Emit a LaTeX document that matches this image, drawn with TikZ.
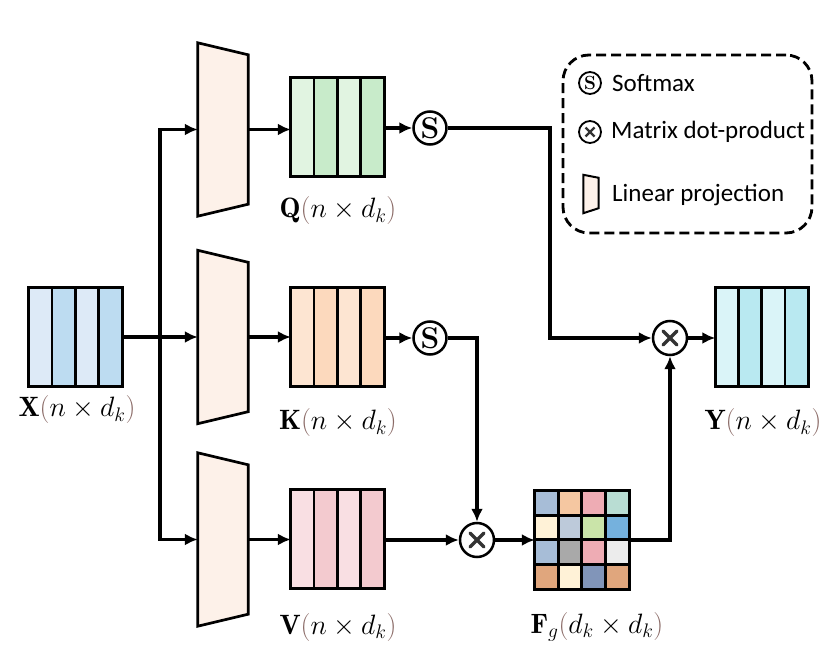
\RequirePackage{fix-cm}
\documentclass[tikz,border=0pt]{standalone}
\usepackage{fontspec}
\setsansfont{Carlito}
\usetikzlibrary{arrows.meta,calc}
\definecolor{xa}{HTML}{DDEAF7}\definecolor{xb}{HTML}{BDDCF1}
\definecolor{qa}{HTML}{E1F4E1}\definecolor{qb}{HTML}{C8EBCA}
\definecolor{ka}{HTML}{FDE5D2}\definecolor{kb}{HTML}{FCD9BD}
\definecolor{va}{HTML}{F9DFE3}\definecolor{vb}{HTML}{F3CACF}
\definecolor{ya}{HTML}{DAF4F8}\definecolor{yb}{HTML}{B9E9F1}
\definecolor{trapc}{HTML}{FDF1E9}
\definecolor{parc}{HTML}{8A6A66}
\definecolor{crossc}{HTML}{333333}
\definecolor{g1}{HTML}{A7BDD7}\definecolor{g2}{HTML}{F5C7A1}\definecolor{g3}{HTML}{EEACB4}\definecolor{g4}{HTML}{B9DDD3}
\definecolor{g5}{HTML}{FFF2D7}\definecolor{g6}{HTML}{BDCADA}\definecolor{g7}{HTML}{CAE4A9}\definecolor{g8}{HTML}{75B1DD}
\definecolor{g9}{HTML}{A7BDD7}\definecolor{g10}{HTML}{A9A9A9}\definecolor{g11}{HTML}{EEACB4}\definecolor{g12}{HTML}{ECECEC}
\definecolor{g13}{HTML}{E0A67D}\definecolor{g14}{HTML}{FFF2D7}\definecolor{g15}{HTML}{8195B9}\definecolor{g16}{HTML}{E0A67D}
\newcommand\pc[1]{{\color{parc}#1}}
\newcommand\matblk[5]{%
  \node[matbox] (#1) at (#2,#3) {};
  \foreach \i/\c in {0/#4,1/#5,2/#4,3/#5}{
    \fill[\c] ($(#1.north west)+(\i*23.25pt,0pt)$) rectangle ++(23.25pt,-98pt);
  }
  \foreach \i in {1,2,3}{
    \draw[line width=2.7pt] ($(#1.north west)+(\i*23.25pt,0pt)$) -- ++(0pt,-98pt);
  }
  \draw[line width=2.7pt] (#1.north west) rectangle (#1.south east);
}
\newcommand\trapblk[4]{% name x y height
  \node[minimum width=50pt,minimum height=#4pt,inner sep=0pt] (#1) at (#2,#3) {};
  \draw[trap] (#1.north west) -- ($(#1.north east)+(0pt,-12pt)$) -- ($(#1.south east)+(0pt,12pt)$) -- (#1.south west) -- cycle;
}
\tikzset{
  connline/.style={line width=3.3pt,line join=miter},
  arrline/.style={line width=3.3pt,line join=miter,-{Latex[length=13pt,width=12pt]}},
}
\begin{document}
\begin{tikzpicture}[x=1pt,y=-1pt,
  matbox/.style={minimum width=93pt,minimum height=98pt,inner sep=0pt},
  trap/.style={draw,fill=trapc,line width=2.7pt,line join=miter},
  lab/.style={font=\fontsize{28}{32}\selectfont,inner sep=0pt},
  soft/.style={circle,draw,line width=2.5pt,minimum size=33pt,inner sep=0pt,font=\fontsize{30}{30}\selectfont\bfseries},
  mult/.style={circle,draw,line width=2.5pt,minimum size=34pt,inner sep=0pt,
    path picture={\draw[line width=3.3pt,color=crossc,line cap=round]
      ($(path picture bounding box.center)+(-7pt,-7pt)$) -- ($(path picture bounding box.center)+(7pt,7pt)$)
      ($(path picture bounding box.center)+(-7pt,7pt)$) -- ($(path picture bounding box.center)+(7pt,-7pt)$);}},
  legt/.style={anchor=west,inner sep=0pt,font=\sffamily\fontsize{25}{29}\selectfont}
]
\useasboundingbox (0,0) rectangle (831,671);

% matrices
\matblk{X}{75.5}{337}{xa}{xb}
\matblk{Q}{337.5}{127}{qa}{qb}
\matblk{K}{337.5}{337}{ka}{kb}
\matblk{V}{337.5}{539}{va}{vb}
\matblk{Y}{762}{337}{ya}{yb}

% trapezoids
\trapblk{P1}{223}{129.5}{173}
\trapblk{P2}{223}{337}{173}
\trapblk{P3}{223}{539.5}{173}

% Fg grid
\node[minimum width=94pt,minimum height=98pt,inner sep=0pt] (F) at (582,540) {};
\foreach \r in {0,1,2,3}{
  \foreach \cc in {0,1,2,3}{
    \pgfmathtruncatemacro\k{\r*4+\cc+1}
    \fill[g\k] ($(F.north west)+(\cc*23.5pt,-\r*24.5pt)$) rectangle ++(23.5pt,-24.5pt);
  }
}
\foreach \i in {1,2,3}{
  \draw[line width=2.7pt] ($(F.north west)+(\i*23.5pt,0pt)$) -- ++(0pt,-98pt);
  \draw[line width=2.7pt] ($(F.north west)+(0pt,-\i*24.5pt)$) -- ++(94pt,0pt);
}
\draw[line width=2.7pt] (F.north west) rectangle (F.south east);

% operators
\node[soft] (s1) at (430,128) {S};
\node[soft] (s2) at (430,338) {S};
\node[mult] (m1) at (477,540) {};
\node[mult] (m2) at (670,338) {};

% labels
\node[lab] (Xl) at (77,410) {$\mathbf{X}\pc{(}n\times d_k\pc{)}$};
\node[lab] (Ql) at (338,211) {$\mathbf{Q}\pc{(}n\times d_k\pc{)}$};
\node[lab] (Kl) at (338,423) {$\mathbf{K}\pc{(}n\times d_k\pc{)}$};
\node[lab] (Vl) at (338,627) {$\mathbf{V}\pc{(}n\times d_k\pc{)}$};
\node[lab] (Yl) at (763,423) {$\mathbf{Y}\pc{(}n\times d_k\pc{)}$};
\node[lab] (Fl) at (597,627) {$\mathbf{F}_g\pc{(}d_k\times d_k\pc{)}$};

% connectors
\coordinate (br) at (160,337);
\coordinate (qturn) at (550,128);
\draw[connline] (X.east) -- (br);
\draw[arrline] (br) |- (P1.west);
\draw[arrline] (br) -- (P2.west);
\draw[arrline] (br) |- (P3.west);
\draw[arrline] (P1.east) -- (Q.west |- P1.east);
\draw[arrline] (P2.east) -- (K.west |- P2.east);
\draw[arrline] (P3.east) -- (V.west |- P3.east);
\draw[arrline] (Q.east |- s1.west) -- (s1.west);
\draw[arrline] (K.east |- s2.west) -- (s2.west);
\draw[arrline] (s1.east) -- (qturn) |- (m2.west);
\draw[arrline] (s2.east) -| (m1.north);
\draw[arrline] (V.east |- m1.west) -- (m1.west);
\draw[arrline] (m1.east) -- (F.west |- m1.east);
\draw[arrline] (F.east) -| (m2.south);
\draw[arrline] (m2.east) -- (Y.west |- m2.east);

% legend
\node[draw,dash pattern=on 10pt off 5pt,line width=2.8pt,rounded corners=26pt,minimum width=249pt,minimum height=178pt,inner sep=0pt] (leg) at (687.5,144) {};
\node[soft,line width=1.8pt,minimum size=22pt,font=\fontsize{19}{19}\selectfont\bfseries] (ls) at (590,83) {S};
\node[mult,line width=1.8pt,minimum size=22pt,path picture={\draw[line width=2.2pt,color=crossc]
      ($(path picture bounding box.center)+(-4.5pt,-4.5pt)$) -- ($(path picture bounding box.center)+(4.5pt,4.5pt)$)
      ($(path picture bounding box.center)+(-4.5pt,4.5pt)$) -- ($(path picture bounding box.center)+(4.5pt,-4.5pt)$);}] (lm) at (590,132) {};
\node[minimum width=15pt,minimum height=38pt,inner sep=0pt] (lp) at (591,194) {};
\draw[trap,line width=2pt] (lp.north west) -- ($(lp.north east)+(0pt,-3pt)$) -- ($(lp.south east)+(0pt,5pt)$) -- (lp.south west) -- cycle;
\node[legt] (lt1) at (612,83) {Softmax};
\node[legt] (lt2) at (611,132) {Matrix dot-product};
\node[legt] (lt3) at (612,195) {Linear projection};
\end{tikzpicture}
\end{document}
